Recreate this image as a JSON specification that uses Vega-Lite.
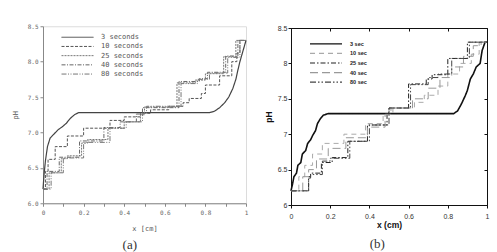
{
  "$schema": "https://vega.github.io/schema/vega-lite/v6.json",
  "background": "white",
  "padding": {"left": 10, "top": 21, "right": 0, "bottom": 0},
  "spacing": 14,
  "center": true,
  "datasets": {
    "a": [
      {"t": 3, "x": 0, "y": 6.2}, {"t": 3, "x": 0.005, "y": 6.4}, {"t": 3, "x": 0.012, "y": 6.6}, {"t": 3, "x": 0.022, "y": 6.8},
      {"t": 3, "x": 0.035, "y": 6.92}, {"t": 3, "x": 0.055, "y": 6.98}, {"t": 3, "x": 0.075, "y": 7.04}, {"t": 3, "x": 0.095, "y": 7.08},
      {"t": 3, "x": 0.115, "y": 7.13}, {"t": 3, "x": 0.135, "y": 7.2}, {"t": 3, "x": 0.155, "y": 7.25}, {"t": 3, "x": 0.175, "y": 7.28},
      {"t": 3, "x": 0.2, "y": 7.28}, {"t": 3, "x": 0.82, "y": 7.28}, {"t": 3, "x": 0.845, "y": 7.3}, {"t": 3, "x": 0.87, "y": 7.35},
      {"t": 3, "x": 0.895, "y": 7.42}, {"t": 3, "x": 0.915, "y": 7.5}, {"t": 3, "x": 0.935, "y": 7.62}, {"t": 3, "x": 0.95, "y": 7.75},
      {"t": 3, "x": 0.96, "y": 7.88}, {"t": 3, "x": 0.97, "y": 8.0}, {"t": 3, "x": 0.98, "y": 8.1}, {"t": 3, "x": 0.99, "y": 8.2},
      {"t": 3, "x": 1, "y": 8.3},

      {"t": 10, "x": 0, "y": 6.2}, {"t": 10, "x": 0.012, "y": 6.45}, {"t": 10, "x": 0.025, "y": 6.62}, {"t": 10, "x": 0.06, "y": 6.8},
      {"t": 10, "x": 0.12, "y": 6.95}, {"t": 10, "x": 0.2, "y": 7.06}, {"t": 10, "x": 0.33, "y": 7.17}, {"t": 10, "x": 0.4, "y": 7.22},
      {"t": 10, "x": 0.48, "y": 7.27}, {"t": 10, "x": 0.53, "y": 7.32}, {"t": 10, "x": 0.62, "y": 7.37}, {"t": 10, "x": 0.69, "y": 7.42},
      {"t": 10, "x": 0.72, "y": 7.48}, {"t": 10, "x": 0.78, "y": 7.55}, {"t": 10, "x": 0.8, "y": 7.67}, {"t": 10, "x": 0.87, "y": 7.8},
      {"t": 10, "x": 0.93, "y": 8.0}, {"t": 10, "x": 0.955, "y": 8.12}, {"t": 10, "x": 0.97, "y": 8.3}, {"t": 10, "x": 1, "y": 8.3},

      {"t": 25, "x": 0, "y": 6.2}, {"t": 25, "x": 0.03, "y": 6.43}, {"t": 25, "x": 0.09, "y": 6.63}, {"t": 25, "x": 0.12, "y": 6.67},
      {"t": 25, "x": 0.19, "y": 6.85}, {"t": 25, "x": 0.22, "y": 6.9}, {"t": 25, "x": 0.32, "y": 7.06}, {"t": 25, "x": 0.4, "y": 7.15},
      {"t": 25, "x": 0.48, "y": 7.25}, {"t": 25, "x": 0.5, "y": 7.36}, {"t": 25, "x": 0.66, "y": 7.7}, {"t": 25, "x": 0.75, "y": 7.74},
      {"t": 25, "x": 0.8, "y": 7.83}, {"t": 25, "x": 0.89, "y": 8.07}, {"t": 25, "x": 0.95, "y": 8.3}, {"t": 25, "x": 1, "y": 8.3},

      {"t": 40, "x": 0, "y": 6.2}, {"t": 40, "x": 0.02, "y": 6.45}, {"t": 40, "x": 0.08, "y": 6.65}, {"t": 40, "x": 0.18, "y": 6.88},
      {"t": 40, "x": 0.3, "y": 7.07}, {"t": 40, "x": 0.38, "y": 7.15}, {"t": 40, "x": 0.46, "y": 7.26}, {"t": 40, "x": 0.49, "y": 7.35},
      {"t": 40, "x": 0.67, "y": 7.72}, {"t": 40, "x": 0.77, "y": 7.76}, {"t": 40, "x": 0.81, "y": 7.85}, {"t": 40, "x": 0.9, "y": 8.08},
      {"t": 40, "x": 0.96, "y": 8.3}, {"t": 40, "x": 1, "y": 8.3},

      {"t": 80, "x": 0, "y": 6.2}, {"t": 80, "x": 0.04, "y": 6.43}, {"t": 80, "x": 0.1, "y": 6.64}, {"t": 80, "x": 0.2, "y": 6.86},
      {"t": 80, "x": 0.33, "y": 7.06}, {"t": 80, "x": 0.41, "y": 7.15}, {"t": 80, "x": 0.49, "y": 7.27}, {"t": 80, "x": 0.51, "y": 7.37},
      {"t": 80, "x": 0.68, "y": 7.69}, {"t": 80, "x": 0.76, "y": 7.75}, {"t": 80, "x": 0.82, "y": 7.84}, {"t": 80, "x": 0.91, "y": 8.06},
      {"t": 80, "x": 0.97, "y": 8.3}, {"t": 80, "x": 1, "y": 8.3}
    ],
    "b": [
      {"t": 3, "x": 0, "y": 6.2}, {"t": 3, "x": 0.008, "y": 6.3}, {"t": 3, "x": 0.015, "y": 6.4}, {"t": 3, "x": 0.028, "y": 6.45},
      {"t": 3, "x": 0.035, "y": 6.56}, {"t": 3, "x": 0.05, "y": 6.6}, {"t": 3, "x": 0.058, "y": 6.72}, {"t": 3, "x": 0.075, "y": 6.77},
      {"t": 3, "x": 0.085, "y": 6.87}, {"t": 3, "x": 0.1, "y": 6.92}, {"t": 3, "x": 0.11, "y": 6.98}, {"t": 3, "x": 0.125, "y": 7.05},
      {"t": 3, "x": 0.135, "y": 7.15}, {"t": 3, "x": 0.15, "y": 7.22}, {"t": 3, "x": 0.165, "y": 7.27}, {"t": 3, "x": 0.19, "y": 7.29},
      {"t": 3, "x": 0.83, "y": 7.29}, {"t": 3, "x": 0.85, "y": 7.33}, {"t": 3, "x": 0.87, "y": 7.43}, {"t": 3, "x": 0.89, "y": 7.55},
      {"t": 3, "x": 0.9, "y": 7.62}, {"t": 3, "x": 0.915, "y": 7.78}, {"t": 3, "x": 0.93, "y": 7.85}, {"t": 3, "x": 0.945, "y": 7.95},
      {"t": 3, "x": 0.965, "y": 8.0}, {"t": 3, "x": 0.975, "y": 8.18}, {"t": 3, "x": 0.99, "y": 8.3}, {"t": 3, "x": 1, "y": 8.3},

      {"t": 10, "x": 0, "y": 6.2}, {"t": 10, "x": 0.04, "y": 6.4}, {"t": 10, "x": 0.07, "y": 6.56}, {"t": 10, "x": 0.11, "y": 6.72},
      {"t": 10, "x": 0.16, "y": 6.87}, {"t": 10, "x": 0.27, "y": 7.0}, {"t": 10, "x": 0.38, "y": 7.15}, {"t": 10, "x": 0.47, "y": 7.28},
      {"t": 10, "x": 0.52, "y": 7.37}, {"t": 10, "x": 0.63, "y": 7.45}, {"t": 10, "x": 0.68, "y": 7.55}, {"t": 10, "x": 0.75, "y": 7.68},
      {"t": 10, "x": 0.8, "y": 7.85}, {"t": 10, "x": 0.86, "y": 8.0}, {"t": 10, "x": 0.92, "y": 8.13}, {"t": 10, "x": 0.96, "y": 8.3},
      {"t": 10, "x": 1, "y": 8.3},

      {"t": 25, "x": 0, "y": 6.2}, {"t": 25, "x": 0.09, "y": 6.4}, {"t": 25, "x": 0.1, "y": 6.45}, {"t": 25, "x": 0.155, "y": 6.6},
      {"t": 25, "x": 0.21, "y": 6.67}, {"t": 25, "x": 0.29, "y": 6.9}, {"t": 25, "x": 0.39, "y": 7.13}, {"t": 25, "x": 0.49, "y": 7.3},
      {"t": 25, "x": 0.5, "y": 7.37}, {"t": 25, "x": 0.6, "y": 7.71}, {"t": 25, "x": 0.69, "y": 7.78}, {"t": 25, "x": 0.72, "y": 7.84},
      {"t": 25, "x": 0.8, "y": 8.07}, {"t": 25, "x": 0.9, "y": 8.3}, {"t": 25, "x": 1, "y": 8.3},

      {"t": 40, "x": 0, "y": 6.2}, {"t": 40, "x": 0.06, "y": 6.4}, {"t": 40, "x": 0.09, "y": 6.5}, {"t": 40, "x": 0.13, "y": 6.65},
      {"t": 40, "x": 0.19, "y": 6.8}, {"t": 40, "x": 0.28, "y": 6.95}, {"t": 40, "x": 0.39, "y": 7.1}, {"t": 40, "x": 0.48, "y": 7.28},
      {"t": 40, "x": 0.51, "y": 7.37}, {"t": 40, "x": 0.62, "y": 7.5}, {"t": 40, "x": 0.7, "y": 7.65}, {"t": 40, "x": 0.76, "y": 7.8},
      {"t": 40, "x": 0.82, "y": 7.95}, {"t": 40, "x": 0.88, "y": 8.1}, {"t": 40, "x": 0.93, "y": 8.25}, {"t": 40, "x": 0.97, "y": 8.3},
      {"t": 40, "x": 1, "y": 8.3},

      {"t": 80, "x": 0, "y": 6.2}, {"t": 80, "x": 0.09, "y": 6.38}, {"t": 80, "x": 0.1, "y": 6.43}, {"t": 80, "x": 0.16, "y": 6.62},
      {"t": 80, "x": 0.2, "y": 6.66}, {"t": 80, "x": 0.3, "y": 6.9}, {"t": 80, "x": 0.4, "y": 7.13}, {"t": 80, "x": 0.5, "y": 7.37},
      {"t": 80, "x": 0.61, "y": 7.7}, {"t": 80, "x": 0.7, "y": 7.8}, {"t": 80, "x": 0.75, "y": 7.85}, {"t": 80, "x": 0.82, "y": 8.07},
      {"t": 80, "x": 0.91, "y": 8.3}, {"t": 80, "x": 1, "y": 8.3}
    ]
  },
  "resolve": {
    "scale": {"color": "independent", "strokeDash": "independent"},
    "legend": {"color": "independent", "strokeDash": "independent"}
  },
  "hconcat": [
    {
      "width": 203,
      "height": 177,
      "data": {"name": "a"},
      "view": {"stroke": "#dcdcdc"},
      "title": {"text": "(a)", "orient": "bottom", "anchor": "middle", "frame": "bounds", "font": "Liberation Serif, DejaVu Serif, serif", "fontSize": 13, "fontWeight": "normal", "color": "#333", "offset": 8},
      "encoding": {
        "x": {
          "field": "x", "type": "quantitative",
          "scale": {"domain": [0, 1], "nice": false},
          "axis": {
            "title": "x [cm]", "grid": false,
            "values": [0, 0.1, 0.2, 0.3, 0.4, 0.5, 0.6, 0.7, 0.8, 0.9, 1],
            "labelExpr": "round(datum.value * 10) % 2 == 0 ? '' + datum.value : ''",
            "labelOverlap": false, "labelFlush": false,
            "domainColor": "#888", "tickColor": "#888", "tickSize": 3, "labelPadding": 3,
            "labelFont": "DejaVu Sans Mono", "labelFontSize": 6, "labelColor": "#666",
            "titleFont": "DejaVu Sans Mono", "titleFontSize": 7, "titleFontWeight": "normal", "titleColor": "#555", "titlePadding": 9
          }
        },
        "y": {
          "field": "y", "type": "quantitative",
          "scale": {"domain": [6, 8.5], "nice": false, "zero": false},
          "axis": {
            "title": "pH", "grid": false,
            "values": [6, 6.5, 7, 7.5, 8, 8.5], "format": ".1f",
            "labelOverlap": false, "labelFlush": false,
            "domainColor": "#888", "tickColor": "#888", "tickSize": 3, "labelPadding": 2,
            "labelFont": "DejaVu Sans Mono", "labelFontSize": 6, "labelColor": "#666",
            "titleFont": "DejaVu Sans Mono", "titleFontSize": 7, "titleFontWeight": "normal", "titleColor": "#555", "titlePadding": 9
          }
        },
        "color": {
          "field": "t", "type": "nominal",
          "scale": {"domain": [3, 10, 25, 40, 80], "range": ["#444", "#555", "#777", "#666", "#777"]},
          "legend": {
            "orient": "none", "legendX": 30, "legendY": 6.5, "title": null, "padding": 0,
            "symbolType": "M-4,0H4", "symbolSize": 64, "symbolStrokeWidth": 1,
            "labelFont": "DejaVu Sans Mono", "labelFontSize": 7, "labelColor": "#555", "labelOffset": 19, "rowPadding": 1.2,
            "labelExpr": "(datum.value < 10 ? '\u00a0' : '') + datum.value + ' seconds'"
          }
        },
        "strokeDash": {
          "field": "t", "type": "nominal",
          "scale": {"domain": [3, 10, 25, 40, 80], "range": [[1, 0], [3, 1.5], [2, 1], [4, 1.5, 1, 1.5], [5, 1.5, 1, 1.5, 1, 1.5]]},
          "legend": {
            "orient": "none", "legendX": 30, "legendY": 6.5, "title": null, "padding": 0,
            "symbolType": "M-4,0H4", "symbolSize": 64, "symbolStrokeWidth": 1,
            "labelFont": "DejaVu Sans Mono", "labelFontSize": 7, "labelColor": "#555", "labelOffset": 19, "rowPadding": 1.2,
            "labelExpr": "(datum.value < 10 ? '\u00a0' : '') + datum.value + ' seconds'"
          }
        }
      },
      "layer": [
        {"transform": [{"filter": "datum.t == 3"}], "mark": {"type": "line", "strokeWidth": 1.2}},
        {"transform": [{"filter": "datum.t != 3"}], "mark": {"type": "line", "strokeWidth": 1, "interpolate": "step-after"}}
      ]
    },
    {
      "width": 196,
      "height": 177,
      "data": {"name": "b"},
      "view": {"stroke": "#111", "strokeWidth": 1},
      "title": {"text": "(b)", "orient": "bottom", "anchor": "middle", "frame": "bounds", "font": "Liberation Serif, DejaVu Serif, serif", "fontSize": 13, "fontWeight": "normal", "color": "#333", "offset": 9},
      "encoding": {
        "color": {
          "field": "t", "type": "nominal",
          "scale": {"domain": [3, 10, 25, 40, 80], "range": ["#111", "#aaa", "#222", "#999", "#444"]},
          "legend": {
            "orient": "none", "legendX": 30, "legendY": 10.8, "title": null, "padding": 0,
            "symbolType": "M-4,0H4", "symbolSize": 64, "symbolStrokeWidth": 1.2,
            "labelFont": "Liberation Sans", "labelFontWeight": "bold", "labelFontSize": 5.5, "labelColor": "#222", "labelOffset": 19, "rowPadding": 0.6,
            "labelExpr": "(datum.value < 10 ? '\u2007' : '') + datum.value + ' sec'"
          }
        },
        "strokeDash": {
          "field": "t", "type": "nominal",
          "scale": {"domain": [3, 10, 25, 40, 80], "range": [[1, 0], [5, 4], [5, 2, 1.5, 2], [8, 4], [6, 2, 1.5, 2, 1.5, 2]]},
          "legend": {
            "orient": "none", "legendX": 30, "legendY": 10.8, "title": null, "padding": 0,
            "symbolType": "M-4,0H4", "symbolSize": 64, "symbolStrokeWidth": 1.2,
            "labelFont": "Liberation Sans", "labelFontWeight": "bold", "labelFontSize": 5.5, "labelColor": "#222", "labelOffset": 19, "rowPadding": 0.6,
            "labelExpr": "(datum.value < 10 ? '\u2007' : '') + datum.value + ' sec'"
          }
        }
      },
      "layer": [
        {
          "transform": [{"filter": "datum.t == 3"}],
          "mark": {"type": "line", "strokeWidth": 1.6},
          "encoding": {
            "x": {
              "field": "x", "type": "quantitative",
              "scale": {"domain": [0, 1], "nice": false},
              "axis": {
                "title": "x (cm)", "grid": false,
                "values": [0, 0.2, 0.4, 0.6, 0.8, 1],
                "labelExpr": "'' + datum.value",
                "labelOverlap": false, "labelFlush": false,
                "domainColor": "#111", "tickColor": "#111", "tickSize": 3, "labelPadding": 4,
                "labelFont": "Liberation Sans", "labelFontSize": 7, "labelColor": "#333",
                "titleFont": "Liberation Sans", "titleFontSize": 8.5, "titleFontWeight": "bold", "titleColor": "#111", "titlePadding": 1
              }
            },
            "y": {
              "field": "y", "type": "quantitative",
              "scale": {"domain": [6, 8.5], "nice": false, "zero": false},
              "axis": {
                "title": "pH", "grid": false,
                "values": [6, 6.5, 7, 7.5, 8, 8.5],
                "labelExpr": "'' + datum.value",
                "labelOverlap": false, "labelFlush": false,
                "domainColor": "#111", "tickColor": "#111", "tickSize": 3, "labelPadding": 1,
                "labelFont": "Liberation Sans", "labelFontSize": 7, "labelColor": "#333",
                "titleFont": "Liberation Sans", "titleFontSize": 8.5, "titleFontWeight": "bold", "titleColor": "#111", "titlePadding": 4
              }
            }
          }
        },
        {
          "transform": [{"filter": "datum.t != 3"}],
          "mark": {"type": "line", "strokeWidth": 1, "interpolate": "step-after"},
          "encoding": {
            "x": {
              "field": "x", "type": "quantitative",
              "scale": {"domain": [0, 1], "nice": false},
              "axis": {
                "orient": "top", "title": null, "labels": false, "grid": false,
                "values": [0.2, 0.4, 0.6, 0.8],
                "domainColor": "#111", "tickColor": "#111", "tickSize": -3,
                "minExtent": 6, "maxExtent": 6
              }
            },
            "y": {
              "field": "y", "type": "quantitative",
              "scale": {"domain": [6, 8.5], "nice": false, "zero": false},
              "axis": {
                "orient": "right", "title": null, "labels": false, "grid": false,
                "values": [6.5, 7, 7.5, 8],
                "domainColor": "#111", "tickColor": "#111", "tickSize": -3,
                "minExtent": 0, "maxExtent": 0
              }
            }
          }
        }
      ],
      "resolve": {"axis": {"x": "independent", "y": "independent"}}
    }
  ]
}
